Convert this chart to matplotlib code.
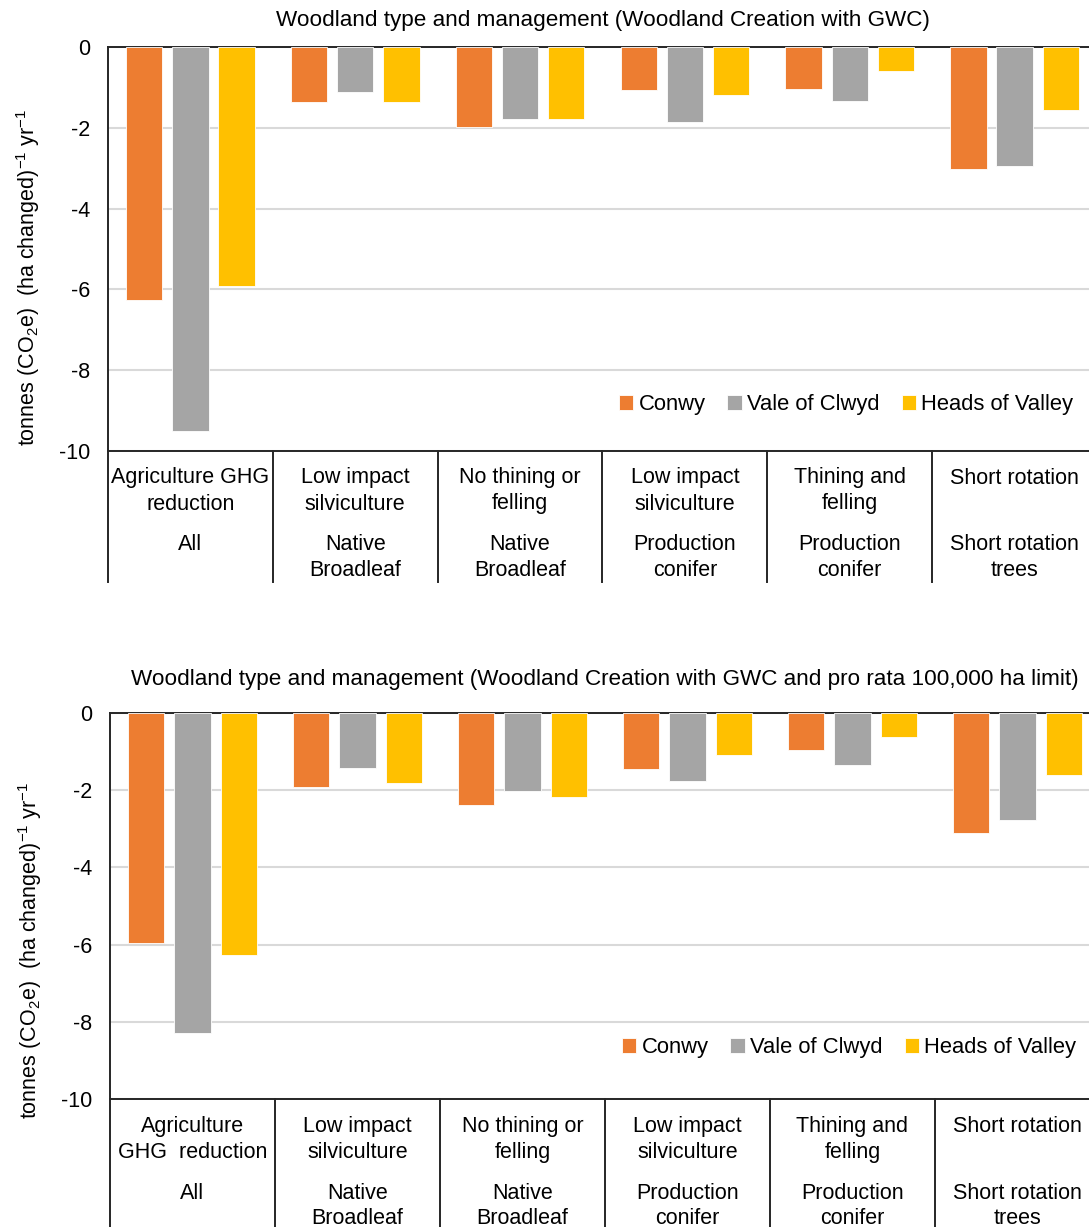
import matplotlib
matplotlib.use("Agg")
import matplotlib.pyplot as plt
import numpy as np

plt.rcParams['font.family'] = ['Liberation Sans', 'DejaVu Sans']
plt.rcParams['mathtext.fontset'] = 'custom'
plt.rcParams['mathtext.rm'] = 'Liberation Sans'
plt.rcParams['mathtext.it'] = 'Liberation Sans'
plt.rcParams['axes.unicode_minus'] = False

# data
series = ["Conwy", "Vale of Clwyd", "Heads of Valley"]
colors = ["#ED7D31", "#A5A5A5", "#FFC000"]

mgmt_top = ["Agriculture GHG\nreduction", "Low impact\nsilviculture", "No thining or\nfelling",
            "Low impact\nsilviculture", "Thining and\nfelling", "Short rotation"]
mgmt_bottom = ["Agriculture\nGHG  reduction", "Low impact\nsilviculture", "No thining or\nfelling",
               "Low impact\nsilviculture", "Thining and\nfelling", "Short rotation"]
wood_types = ["All", "Native\nBroadleaf", "Native\nBroadleaf", "Production\nconifer",
              "Production\nconifer", "Short rotation\ntrees"]

conwy_gwc = [-6.27, -1.37, -1.97, -1.07, -1.05, -3.03]
vale_gwc = [-9.51, -1.12, -1.78, -1.85, -1.34, -2.94]
heads_gwc = [-5.92, -1.37, -1.77, -1.18, -0.60, -1.55]

conwy_lim = [-5.95, -1.93, -2.38, -1.46, -0.96, -3.11]
vale_lim = [-8.29, -1.42, -2.02, -1.77, -1.35, -2.78]
heads_lim = [-6.26, -1.82, -2.17, -1.09, -0.63, -1.62]

title_gwc = "Woodland type and management (Woodland Creation with GWC)"
title_lim = "Woodland type and management (Woodland Creation with GWC and pro rata 100,000 ha limit)"
ylabel = "tonnes (CO$_2$e)  (ha changed)$^{-1}$ yr$^{-1}$"

FS = 15.5
W, H = 1089, 1227
fig = plt.figure(figsize=(W / 100, H / 100), dpi=100)


def draw_panel(rect, vals, mgmt, title, title_pad, label_y, legend_y, sep_px):
    ax = fig.add_axes(rect)
    x = np.arange(len(mgmt))
    step, bw = 0.28, 0.22
    for i, (name, v) in enumerate(zip(series, vals)):
        ax.bar(x + (i - 1) * step, v, width=bw, color=colors[i], label=name,
               edgecolor='white', linewidth=0.6, zorder=3)
    ax.set_xlim(-0.5, len(mgmt) - 0.5)
    ax.set_ylim(-10, 0)
    ax.set_yticks([0, -2, -4, -6, -8, -10])
    ax.set_yticklabels(["0", "-2", "-4", "-6", "-8", "-10"])
    ax.tick_params(axis='y', length=0, pad=13, labelsize=FS)
    ax.set_xticks([])
    ax.yaxis.grid(True, color='#D9D9D9', linewidth=1.5, zorder=0)
    ax.set_axisbelow(True)
    for s in ['left', 'top', 'bottom']:
        ax.spines[s].set_color('#262626')
        ax.spines[s].set_linewidth(1.4)
    ax.spines['right'].set_visible(False)
    ax.set_ylabel(ylabel, fontsize=FS, va='center')
    ax.yaxis.set_label_coords(-0.081, label_y)
    ax.set_title(title, fontsize=16.2, pad=title_pad)

    # two-level category labels under the axis
    tr = ax.get_xaxis_transform()
    for xi, top, bot in zip(x, mgmt, wood_types):
        for k, line in enumerate(top.split("\n")):
            ax.annotate(line, xy=(xi, 0), xycoords=tr, xytext=(0, -27 - 26 * k),
                        textcoords='offset pixels', ha='center', va='center', fontsize=FS)
        for k, line in enumerate(bot.split("\n")):
            ax.annotate(line, xy=(xi, 0), xycoords=tr, xytext=(0, -94 - 25 * k),
                        textcoords='offset pixels', ha='center', va='center', fontsize=FS)
    ax_h_px = rect[3] * H
    for b in np.arange(-0.5, len(mgmt), 1.0):
        ax.plot([b, b], [0, -sep_px / ax_h_px], transform=tr, color='#262626',
                linewidth=1.4, clip_on=False)

    ax.legend(loc='center right', bbox_to_anchor=(0.985, legend_y), ncol=3, frameon=False,
              fontsize=15.8, handlelength=0.65, handleheight=0.65, handletextpad=0.25,
              columnspacing=1.0, borderaxespad=0)
    return ax


draw_panel([108 / W, 1 - 451 / H, 989 / W, 404 / H],
           [conwy_gwc, vale_gwc, heads_gwc], mgmt_top, title_gwc, 15, 0.43, 0.114, 131)
draw_panel([110 / W, 1 - 1099.3 / H, 990 / W, 386.6 / H],
           [conwy_lim, vale_lim, heads_lim], mgmt_bottom, title_lim, 20, 0.386, 0.134, 130)

fig.savefig("out.png", dpi=100)
